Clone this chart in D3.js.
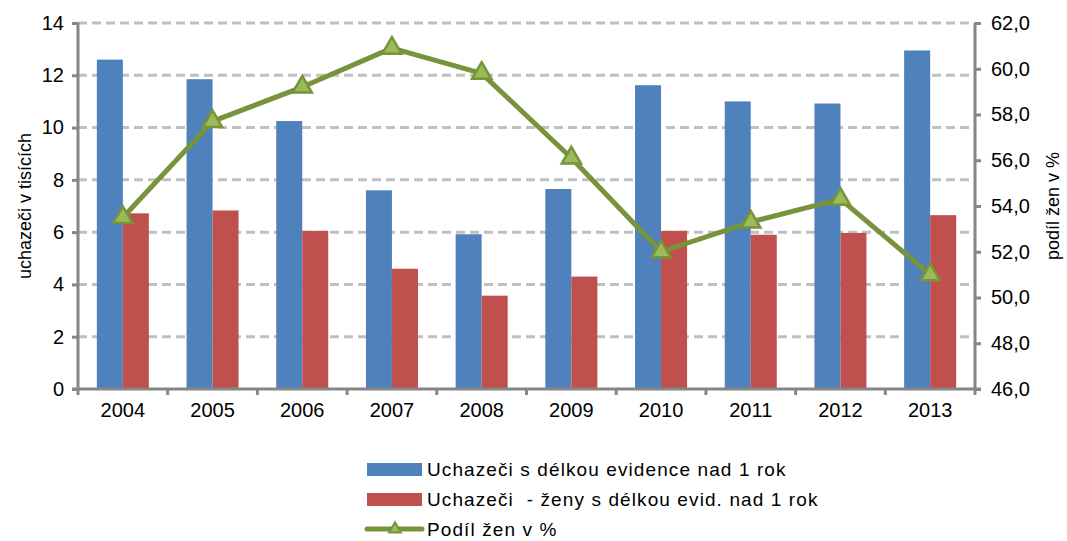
<!DOCTYPE html>
<html>
<head>
<meta charset="utf-8">
<script src="https://cdn.jsdelivr.net/npm/d3@7"></script>
<style>
  body { margin: 0; background: #fff; }
  svg text { font-family: "Liberation Sans", Arial, sans-serif; fill: #000; }
</style>
</head>
<body>
<svg id="chart" width="1067" height="541"></svg>
<script>
  var years = ["2004","2005","2006","2007","2008","2009","2010","2011","2012","2013"];
  var longTerm = [12.6, 11.85, 10.25, 7.6, 5.92, 7.65, 11.62, 11.0, 10.92, 12.95];
  var longTermWomen = [6.72, 6.83, 6.05, 4.6, 3.57, 4.3, 6.05, 5.9, 5.97, 6.65];
  var womenShare = [53.5, 57.7, 59.2, 60.9, 59.8, 56.1, 52.0, 53.3, 54.3, 51.0];
  var leftTicks = [0, 2, 4, 6, 8, 10, 12, 14];
  var rightTicks = [46, 48, 50, 52, 54, 56, 58, 60, 62];
  var seriesNames = ["Uchazeči s délkou evidence nad 1 rok",
                     "Uchazeči  - ženy s délkou evid. nad 1 rok",
                     "Podíl žen v %"];

  (function () {
  var svg = d3.select("#chart");
  var mLeft = 78, mRight = 975, mTop = 23, mBottom = 389;

  var x = d3.scaleBand().domain(years).range([mLeft, mRight]).paddingInner(0.42).paddingOuter(0.21);
  var yL = d3.scaleLinear().domain([0, 14]).range([mBottom, mTop]);
  var yR = d3.scaleLinear().domain([46, 62]).range([mBottom, mTop]);
  var bw = x.bandwidth() / 2;

  // gridlines
  svg.append("g").selectAll("line").data(leftTicks.slice(1)).join("line")
      .attr("x1", mLeft).attr("x2", mRight)
      .attr("y1", d => yL(d)).attr("y2", d => yL(d))
      .attr("stroke", "#c0c0c0").attr("stroke-width", 3)
      .attr("stroke-dasharray", "9,5");

  // bars
  svg.append("g").selectAll("rect").data(longTerm).join("rect")
      .attr("x", (d, i) => x(years[i])).attr("width", bw)
      .attr("y", d => yL(d)).attr("height", d => mBottom - yL(d))
      .attr("fill", "#4f81bd");
  svg.append("g").selectAll("rect").data(longTermWomen).join("rect")
      .attr("x", (d, i) => x(years[i]) + bw).attr("width", bw)
      .attr("y", d => yL(d)).attr("height", d => mBottom - yL(d))
      .attr("fill", "#c0504d");

  // axes
  var axL = svg.append("g").attr("transform", "translate(" + mLeft + ",0)")
      .call(d3.axisLeft(yL).tickValues(leftTicks).tickSize(6).tickPadding(8).tickFormat(d3.format("d")));
  var axR = svg.append("g").attr("transform", "translate(" + mRight + ",0)")
      .call(d3.axisRight(yR).tickValues(rightTicks).tickSize(6).tickPadding(10)
            .tickFormat(d => d.toFixed(1).replace(".", ",")));
  var axB = svg.append("g").attr("transform", "translate(0," + mBottom + ")")
      .call(d3.axisBottom(x).tickSize(0).tickPadding(14));
  // category separators on x axis
  var xEdges = d3.range(years.length + 1).map(i => mLeft + i * (mRight - mLeft) / years.length);
  svg.append("g").selectAll("line").data(xEdges).join("line")
      .attr("x1", d => d).attr("x2", d => d).attr("y1", mBottom).attr("y2", mBottom + 6)
      .attr("stroke", "#868686").attr("stroke-width", 3);

  [axL, axR, axB].forEach(function (a) {
    a.select(".domain").attr("stroke", "#868686").attr("stroke-width", 3);
    a.selectAll(".tick line").attr("stroke", "#868686").attr("stroke-width", 3);
    a.selectAll("text").style("font-size", "20px").attr("fill", "#000");
  });
  axB.select(".domain").attr("d", "M" + (mLeft - 6) + ",0H" + (mRight + 6));
  axL.select(".domain").attr("d", "M0," + mTop + "V" + mBottom);
  axR.select(".domain").attr("d", "M0," + mTop + "V" + mBottom);

  // axis titles
  svg.append("text").attr("transform", "translate(31," + ((mTop + mBottom) / 2) + ") rotate(-90)")
      .attr("text-anchor", "middle").style("font-size", "18px").text("uchazeči v tisících");
  svg.append("text").attr("transform", "translate(1059," + ((mTop + mBottom) / 2) + ") rotate(-90)")
      .attr("text-anchor", "middle").style("font-size", "18px").text("podíl žen v %");

  // line
  var cx = (d, i) => x(years[i]) + bw;
  var line = d3.line().x(cx).y(d => yR(d));
  svg.append("path").datum(womenShare).attr("d", line)
      .attr("fill", "none").attr("stroke", "#77933c").attr("stroke-width", 5)
      .attr("stroke-linejoin", "round");
  var tri = d3.symbol().type(d3.symbolTriangle).size(160);
  svg.append("g").selectAll("path").data(womenShare).join("path")
      .attr("d", tri)
      .attr("transform", (d, i) => "translate(" + cx(d, i) + "," + yR(d) + ")")
      .attr("fill", "#9bbb59").attr("stroke", "#77933c").attr("stroke-width", 2.5);

  // legend
  var lg = svg.append("g").attr("transform", "translate(367,0)");
  var rows = [469, 499, 529];
  lg.append("rect").attr("x", 0).attr("y", rows[0] - 6).attr("width", 55).attr("height", 13).attr("fill", "#4f81bd");
  lg.append("rect").attr("x", 0).attr("y", rows[1] - 6).attr("width", 55).attr("height", 13).attr("fill", "#c0504d");
  lg.append("line").attr("x1", 0).attr("x2", 55).attr("y1", rows[2]).attr("y2", rows[2])
      .attr("stroke", "#77933c").attr("stroke-width", 5).attr("stroke-linecap", "round");
  lg.append("path").attr("d", d3.symbol().type(d3.symbolTriangle).size(60))
      .attr("transform", "translate(28," + rows[2] + ")")
      .attr("fill", "#9bbb59").attr("stroke", "#77933c").attr("stroke-width", 2);
  lg.selectAll("text.lbl").data(seriesNames).join("text").attr("class", "lbl")
      .attr("x", 60).attr("y", (d, i) => rows[i]).attr("dy", "0.35em")
      .style("font-size", "19px").style("letter-spacing", "1.1px")
      .style("white-space", "pre").text(d => d);
  })();
</script>
</body>
</html>
